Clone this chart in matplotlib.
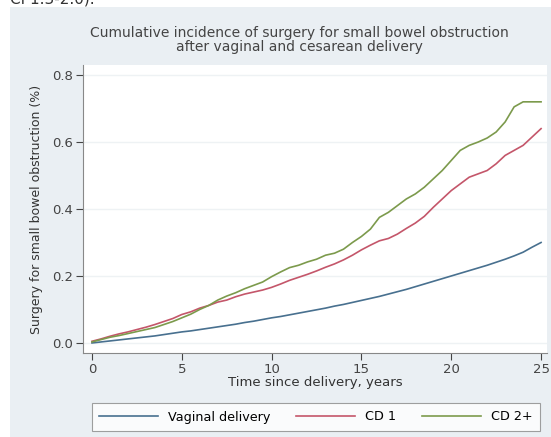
import numpy as np
import matplotlib.pyplot as plt
from matplotlib.patches import Rectangle

# ---------------------------------------------------------
# Data
# ---------------------------------------------------------
years = [0, 0.5, 1, 1.5, 2, 2.5, 3, 3.5, 4, 4.5, 5, 5.5, 6, 6.5, 7, 7.5, 8, 8.5,
         9, 9.5, 10, 10.5, 11, 11.5, 12, 12.5, 13, 13.5, 14, 14.5, 15, 15.5, 16,
         16.5, 17, 17.5, 18, 18.5, 19, 19.5, 20, 20.5, 21, 21.5, 22, 22.5, 23,
         23.5, 24, 24.5, 25]

vaginal = [0.000, 0.003, 0.006, 0.009, 0.012, 0.015, 0.018, 0.021, 0.025, 0.029,
           0.033, 0.036, 0.040, 0.044, 0.048, 0.052, 0.056, 0.061, 0.065, 0.070,
           0.075, 0.079, 0.084, 0.089, 0.094, 0.099, 0.104, 0.110, 0.115, 0.121,
           0.127, 0.133, 0.139, 0.146, 0.153, 0.160, 0.168, 0.176, 0.184, 0.192,
           0.200, 0.208, 0.216, 0.224, 0.232, 0.241, 0.250, 0.260, 0.271, 0.286,
           0.300]

cd1 = [0.005, 0.012, 0.020, 0.027, 0.033, 0.040, 0.047, 0.055, 0.064, 0.073,
       0.085, 0.093, 0.104, 0.112, 0.122, 0.128, 0.138, 0.146, 0.152, 0.158,
       0.166, 0.176, 0.187, 0.196, 0.205, 0.215, 0.226, 0.236, 0.248, 0.262,
       0.278, 0.292, 0.305, 0.312, 0.325, 0.342, 0.358, 0.378, 0.405, 0.430,
       0.455, 0.475, 0.495, 0.505, 0.515, 0.535, 0.560, 0.575, 0.590, 0.615,
       0.640]

cd2 = [0.003, 0.010, 0.017, 0.022, 0.028, 0.034, 0.040, 0.046, 0.055, 0.064,
       0.075, 0.086, 0.100, 0.112, 0.128, 0.140, 0.150, 0.162, 0.172, 0.182,
       0.198, 0.212, 0.225, 0.232, 0.242, 0.250, 0.262, 0.268, 0.280, 0.300,
       0.318, 0.340, 0.375, 0.390, 0.410, 0.430, 0.445, 0.465, 0.490, 0.515,
       0.545, 0.575, 0.590, 0.600, 0.612, 0.630, 0.660, 0.705, 0.720, 0.720,
       0.720]

labels = ["Vaginal delivery", "CD 1", "CD 2+"]
colors = ["#48708f", "#c4566a", "#7c9a4c"]

# ---------------------------------------------------------
# Figure
# ---------------------------------------------------------
W, H = 551, 437
fig = plt.figure(figsize=(W / 100, H / 100), dpi=100, facecolor="white")

# grey graph region (page strip at the top stays white)
fig.patches.append(Rectangle((10 / W, 0), 1, 1 - 7 / H, transform=fig.transFigure,
                             facecolor="#eaeff3", edgecolor="none", zorder=-10))

# clipped text from the page above the figure
fig.text(10 / W, 1 - 6 / H, "CI 1.3-2.0).", fontsize=11, color="#333333",
         va="bottom", ha="left")

ax = fig.add_axes([83 / W, 1 - 353 / H, 464 / W, 288 / H])
ax.set_facecolor("white")

for y, lab, c in zip([vaginal, cd1, cd2], labels, colors):
    ax.plot(years, y, color=c, lw=1.2, label=lab)

ax.set_xlim(-0.5, 25.33)
ax.set_ylim(-0.03, 0.83)
ax.set_xticks([0, 5, 10, 15, 20, 25])
ax.set_yticks([0.0, 0.2, 0.4, 0.6, 0.8])
ax.set_yticklabels(["0.0", "0.2", "0.4", "0.6", "0.8"])
ax.tick_params(labelsize=9.5, colors="#444444", length=5, width=0.8, pad=2)
ax.grid(axis="y", color="#eef2f4", lw=1)
ax.set_axisbelow(True)

for s in ["top", "right"]:
    ax.spines[s].set_visible(False)
for s in ["left", "bottom"]:
    ax.spines[s].set_color("#888888")
    ax.spines[s].set_linewidth(0.8)

ax.set_xlabel("Time since delivery, years", fontsize=9.5, color="#333333", labelpad=0)
ax.set_ylabel("Surgery for small bowel obstruction (%)", fontsize=9, color="#333333",
              labelpad=7)

fig.text(299 / W, 1 - 40.5 / H, "Cumulative incidence of surgery for small bowel obstruction\n"
         "after vaginal and cesarean delivery", ha="center", va="center",
         fontsize=10, color="#444444", linespacing=1.0)

leg = fig.legend(loc="center", bbox_to_anchor=(316 / W, 1 - 417 / H), ncol=3,
                 fontsize=9.2, frameon=True, fancybox=False, handlelength=4.6,
                 columnspacing=2.0, borderpad=0.6, handletextpad=0.8)
leg.get_frame().set_edgecolor("#888888")
leg.get_frame().set_linewidth(0.8)

plt.savefig("out.png", dpi=100, facecolor=fig.get_facecolor())
